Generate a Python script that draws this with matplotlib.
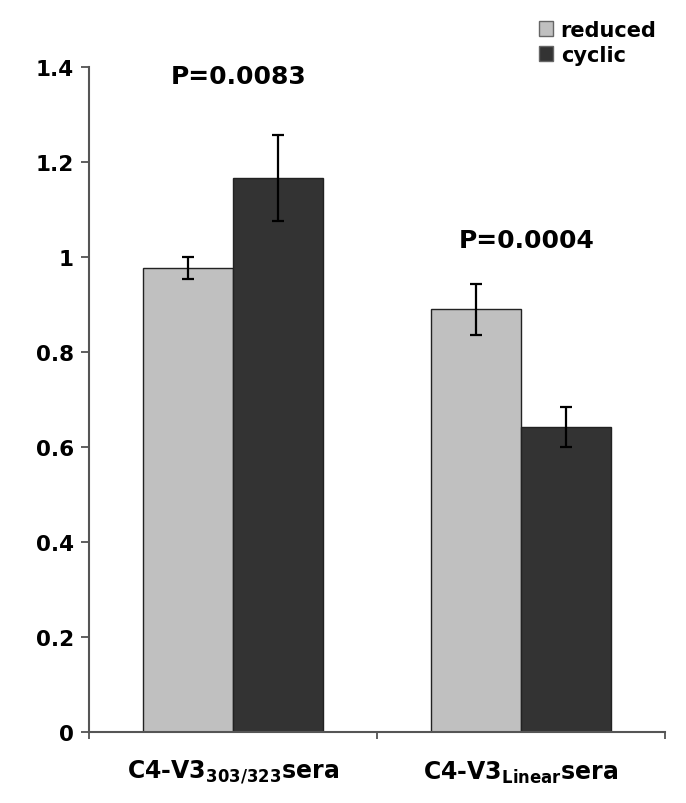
import matplotlib
matplotlib.use("Agg")
import matplotlib.pyplot as plt
import numpy as np

plt.rcParams['font.family'] = ['DejaVu Sans']
plt.rcParams['font.weight'] = 'bold'
plt.rcParams['mathtext.fontset'] = 'dejavusans'

categories = ['C4-V3$_{\\mathbf{303/323}}$sera', 'C4-V3$_{\\mathbf{Linear}}$sera']
series_names = ['reduced', 'cyclic']
reduced_vals = [0.977, 0.890]
reduced_err = [0.023, 0.054]
cyclic_vals = [1.166, 0.642]
cyclic_err = [0.090, 0.042]
p_labels = ['P=0.0083', 'P=0.0004']
p_label_y = [1.38, 1.035]
yticks = [0, 0.2, 0.4, 0.6, 0.8, 1.0, 1.2, 1.4]
ytick_labels = ['0', '0.2', '0.4', '0.6', '0.8', '1', '1.2', '1.4']

colors = ['#c0c0c0', '#333333']

fig = plt.figure(figsize=(6.86, 8.04), dpi=100)
ax = fig.add_axes([89/686, 1-733/804, (665-89)/686, (733-68)/804])

x = np.arange(len(categories))
w = 0.3125
ekw = dict(ecolor='black', elinewidth=1.6, capsize=4.5, capthick=1.6)
ax.bar(x - w/2, reduced_vals, w, yerr=reduced_err, color=colors[0], edgecolor='#222222',
       linewidth=1.0, label=series_names[0], error_kw=ekw, zorder=2)
ax.bar(x + w/2, cyclic_vals, w, yerr=cyclic_err, color=colors[1], edgecolor='#222222',
       linewidth=1.0, label=series_names[1], error_kw=ekw, zorder=2)

for xi, lab, yy in zip(x, p_labels, p_label_y):
    ax.text(xi + 0.02, yy, lab, ha='center', va='center', fontsize=18, fontweight='bold')

ax.set_xlim(-0.5, 1.5)
ax.set_ylim(0, 1.4)
ax.set_yticks(yticks)
ax.set_yticklabels(ytick_labels, fontsize=15.5, fontweight='bold')
ax.set_xticks([-0.5, 0.5, 1.5])
ax.set_xticklabels(['', '', ''])
ax.set_xticks(x, minor=True)
ax.set_xticklabels(categories, minor=True, fontsize=17, fontweight='bold')
ax.tick_params(axis='x', which='minor', length=0, pad=19)
ax.tick_params(axis='x', which='major', length=5, width=1.2, color='#444444')
ax.tick_params(axis='y', length=6, width=1.2, color='#444444', pad=5)

for s in ['top', 'right']:
    ax.spines[s].set_visible(False)
for s in ['left', 'bottom']:
    ax.spines[s].set_color('#555555')
    ax.spines[s].set_linewidth(1.5)

leg = fig.legend(loc='upper left', bbox_to_anchor=(520/686, 1-2/804), frameon=False,
                 handlelength=0.7, handleheight=0.7, handletextpad=0.35,
                 labelspacing=0.25, prop={'size': 15, 'weight': 'bold'})
for h in leg.legend_handles:
    h.set_edgecolor('#666666')

fig.savefig('out.png', dpi=100)
